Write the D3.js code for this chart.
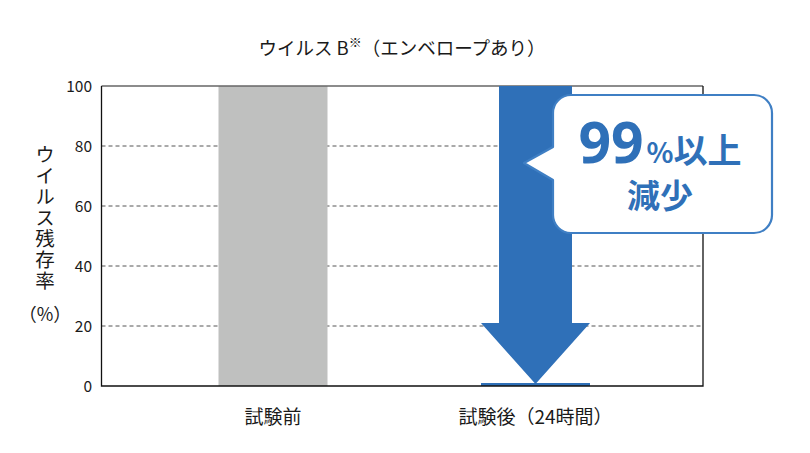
<!DOCTYPE html>
<html>
<head>
<meta charset="utf-8">
<script src="https://cdn.jsdelivr.net/npm/d3@7"></script>
<style>
  body { margin: 0; background: #fff; }
  svg { display: block; }
  text { font-family: "Noto Sans CJK JP", "Noto Sans", sans-serif; }
</style>
</head>
<body>
<svg id="chart" width="810" height="453"></svg>
<script>
// chart data
const categories = ["試験前", "試験後（24時間）"];
const values = [100, 1];
const yTicks = [0, 20, 40, 60, 80, 100];
const gridTicks = [20, 40, 60, 80];
const yTitle = "ウイルス残存率";
const arrowHeadStart = 21; // value where the arrowhead begins

const plot = { left: 101.5, right: 703, top: 86, bottom: 386 };
const barW = 109;
const blue = "#2f70b8";
const gray = "#bfc0bf";
const ink = "#1a1a1a";

const svg = d3.select("#chart");

const x = d3.scalePoint().domain(categories).range([273, 535.5]);
const y = d3.scaleLinear().domain([0, 100]).range([plot.bottom, plot.top]);

// title
const title = svg.append("text")
  .attr("x", 402)
  .attr("y", 55)
  .attr("text-anchor", "middle")
  .attr("font-size", 18.5)
  .attr("fill", ink);
title.append("tspan").text("ウイルス B");
title.append("tspan").attr("font-size", 13).attr("dy", -8).text("※");
title.append("tspan").attr("dy", 8).text("（エンベロープあり）");

// dashed gridlines
svg.append("g")
  .selectAll("line")
  .data(gridTicks)
  .enter()
  .append("line")
  .attr("x1", plot.left)
  .attr("x2", plot.right)
  .attr("y1", (d) => y(d))
  .attr("y2", (d) => y(d))
  .attr("stroke", "#555")
  .attr("stroke-width", 1)
  .attr("stroke-dasharray", "4,3");

// bars
svg.append("g")
  .selectAll("rect")
  .data(categories)
  .enter()
  .append("rect")
  .attr("x", (d) => x(d) - barW / 2)
  .attr("width", barW)
  .attr("y", (d, i) => y(values[i]))
  .attr("height", (d, i) => y(0) - y(values[i]))
  .attr("fill", (d, i) => (i === 0 ? gray : blue));

// frame: top grey, others black
svg.append("line")
  .attr("x1", plot.left).attr("x2", plot.right)
  .attr("y1", plot.top).attr("y2", plot.top)
  .attr("stroke", "#666").attr("stroke-width", 1.5);
svg.append("path")
  .attr("d", `M${plot.left},${plot.top}V${plot.bottom}H${plot.right}V${plot.top}`)
  .attr("fill", "none")
  .attr("stroke", "#111")
  .attr("stroke-width", 1.3);

// y tick labels
svg.append("g")
  .selectAll("text")
  .data(yTicks)
  .enter()
  .append("text")
  .attr("x", 92)
  .attr("y", (d) => y(d))
  .attr("dy", "0.36em")
  .attr("text-anchor", "end")
  .attr("font-size", 15.5)
  .attr("fill", ink)
  .text((d) => d);

// y title, vertical
svg.append("text")
  .attr("x", 45)
  .attr("y", 145)
  .attr("writing-mode", "vertical-rl")
  .attr("text-orientation", "upright")
  .attr("letter-spacing", 1.5)
  .attr("font-size", 19.5)
  .attr("fill", ink)
  .text(yTitle);
svg.append("text")
  .attr("x", 45)
  .attr("y", 315)
  .attr("dy", "0.36em")
  .attr("text-anchor", "middle")
  .attr("font-size", 18)
  .attr("fill", ink)
  .text("（%）");

// x labels
svg.append("g")
  .selectAll("text")
  .data(categories)
  .enter()
  .append("text")
  .attr("x", (d) => x(d))
  .attr("y", 424)
  .attr("text-anchor", "middle")
  .attr("font-size", 19)
  .attr("fill", ink)
  .text((d) => d);

// big arrow from before value down to after value
const ax = x(categories[1]);
const shaftW = 73;
const headW = barW;
const arrow = d3.path();
arrow.moveTo(ax - shaftW / 2, y(values[0]));
arrow.lineTo(ax + shaftW / 2, y(values[0]));
arrow.lineTo(ax + shaftW / 2, y(arrowHeadStart));
arrow.lineTo(ax + headW / 2, y(arrowHeadStart));
arrow.lineTo(ax, y(values[1]) + 1);
arrow.lineTo(ax - headW / 2, y(arrowHeadStart));
arrow.lineTo(ax - shaftW / 2, y(arrowHeadStart));
arrow.closePath();
svg.append("path").attr("d", arrow.toString()).attr("fill", blue);

// callout bubble
const bx0 = 553, bx1 = 772, by0 = 95, by1 = 233, r = 18;
const tip = { x: 524, y: 163 };
const bub = d3.path();
bub.moveTo(bx0 + r, by0);
bub.lineTo(bx1 - r, by0);
bub.arcTo(bx1, by0, bx1, by0 + r, r);
bub.lineTo(bx1, by1 - r);
bub.arcTo(bx1, by1, bx1 - r, by1, r);
bub.lineTo(bx0 + r, by1);
bub.arcTo(bx0, by1, bx0, by1 - r, r);
bub.lineTo(bx0, 180);
bub.lineTo(tip.x, tip.y);
bub.lineTo(bx0, 147);
bub.lineTo(bx0, by0 + r);
bub.arcTo(bx0, by0, bx0 + r, by0, r);
bub.closePath();
svg.append("path")
  .attr("d", bub.toString())
  .attr("fill", "#fff")
  .attr("stroke", "#3f7fc4")
  .attr("stroke-width", 2.2)
  .attr("stroke-linejoin", "round");

const callout = svg.append("text")
  .attr("x", 660)
  .attr("y", 163)
  .attr("text-anchor", "middle")
  .attr("fill", blue)
  .attr("font-weight", "bold");
callout.append("tspan").attr("font-size", 57).attr("font-family", "'Open Sans', 'Noto Sans', sans-serif").text("99");
callout.append("tspan").attr("font-size", 28).attr("dx", 3).text("%");
callout.append("tspan").attr("font-size", 34).text("以上");

svg.append("text")
  .attr("x", 660)
  .attr("y", 208)
  .attr("text-anchor", "middle")
  .attr("fill", blue)
  .attr("font-weight", "bold")
  .attr("font-size", 33)
  .text("減少");
</script>
</body>
</html>
